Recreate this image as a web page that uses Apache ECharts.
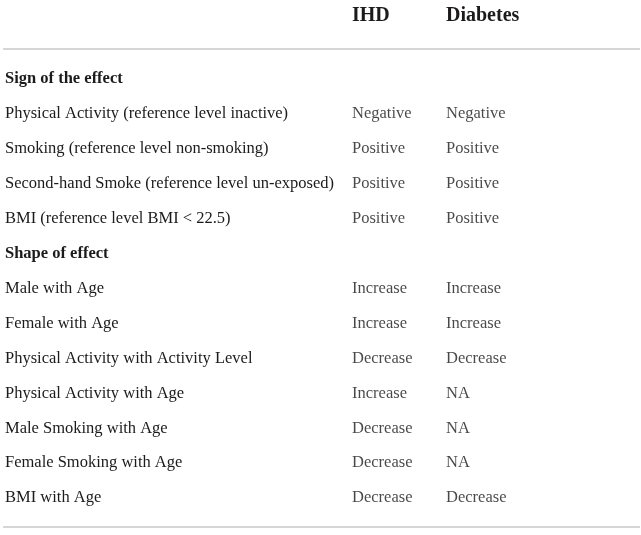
<!DOCTYPE html>
<html>
<head>
<meta charset="utf-8">
<script src="https://cdn.jsdelivr.net/npm/echarts@6/dist/echarts.min.js"></script>
<style>
  html, body { margin: 0; padding: 0; background: #fff; }
  #main { width: 641px; height: 535px; }
</style>
</head>
<body>
<div id="main"></div>
<script>
// table content
var columns = ['IHD', 'Diabetes'];
var rows = [
  'Sign of the effect',
  'Physical Activity (reference level inactive)',
  'Smoking (reference level non-smoking)',
  'Second-hand Smoke (reference level un-exposed)',
  'BMI (reference level BMI < 22.5)',
  'Shape of effect',
  'Male with Age',
  'Female with Age',
  'Physical Activity with Activity Level',
  'Physical Activity with Age',
  'Male Smoking with Age',
  'Female Smoking with Age',
  'BMI with Age'
];
var sectionRows = ['Sign of the effect', 'Shape of effect'];
var ihd = ['', 'Negative', 'Positive', 'Positive', 'Positive', '',
  'Increase', 'Increase', 'Decrease', 'Increase', 'Decrease', 'Decrease', 'Decrease'];
var diabetes = ['', 'Negative', 'Positive', 'Positive', 'Positive', '',
  'Increase', 'Increase', 'Decrease', 'NA', 'NA', 'NA', 'Decrease'];

var FONT = '"Liberation Serif", "DejaVu Serif", serif';
var TEXT = '#1c1a1b';
var colX = [352, 446];

var chart = echarts.init(document.getElementById('main'));

function cellSeries(name, values, x) {
  return {
    type: 'scatter',
    name: name,
    symbolSize: 0,
    silent: true,
    data: values.map(function (v, i) { return [x, i, v]; }),
    label: {
      show: true,
      position: 'right',
      distance: 0,
      formatter: function (p) { return p.data[2]; },
      fontFamily: FONT,
      fontSize: 16.5,
      color: TEXT
    }
  };
}

var option = {
  animation: false,
  grid: { left: 0, right: 0, top: 61.5, bottom: 19.5 },
  xAxis: { type: 'value', min: 0, max: 641, show: false },
  yAxis: {
    type: 'category',
    data: rows,
    inverse: true,
    axisLine: { show: false },
    axisTick: { show: false },
    splitLine: { show: false },
    axisLabel: {
      inside: true,
      margin: 5,
      align: 'left',
      formatter: function (v) {
        return sectionRows.indexOf(v) >= 0 ? '{b|' + v + '}' : '{n|' + v + '}';
      },
      rich: {
        n: { fontFamily: FONT, fontSize: 16.5, color: TEXT },
        b: { fontFamily: FONT, fontSize: 16.5, fontWeight: 'bold', color: TEXT }
      }
    }
  },
  graphic: [
    { type: 'text', left: colX[0], top: 6,
      style: { text: columns[0], font: 'bold 20px ' + FONT, fill: TEXT } },
    { type: 'text', left: colX[1], top: 6,
      style: { text: columns[1], font: 'bold 20px ' + FONT, fill: TEXT } },
    { type: 'line', shape: { x1: 3, y1: 49, x2: 640, y2: 49 },
      style: { stroke: '#c8c8c8', lineWidth: 1.5 } },
    { type: 'line', shape: { x1: 3, y1: 527, x2: 640, y2: 527 },
      style: { stroke: '#c8c8c8', lineWidth: 1.5 } }
  ],
  series: [
    cellSeries(columns[0], ihd, colX[0]),
    cellSeries(columns[1], diabetes, colX[1])
  ]
};

chart.setOption(option);
</script>
</body>
</html>
